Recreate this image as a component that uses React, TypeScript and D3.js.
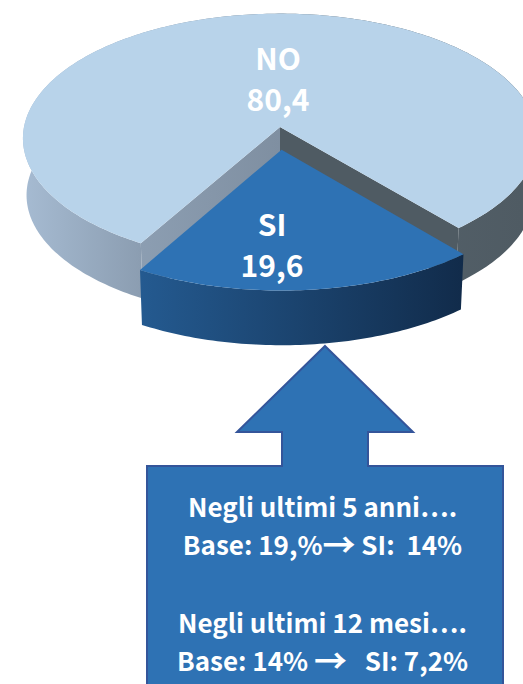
import React from "react";
import * as d3 from "d3";

const categories = ["SI", "NO"];
const values = [19.6, 80.4];
const valueLabels = ["19,6", "80,4"];
const calloutLines = [
  "Negli ultimi 5 anni….",
  "Base: 19,%→ SI:  14%",
  "Negli ultimi 12 mesi….",
  "Base: 14% →   SI: 7,2%",
];

const W = 523;
const H = 684;
const FONT = "'Noto Sans CJK SC', 'Noto Sans', sans-serif";

// pie lying in perspective: unit disc coords -> screen
const cx = 280;
const cy = 127;
const rx = 256;
const ry = 123.7;
const persp = 0.0909;
const depth = 57;
const bottomScale = 0.986;

const deg = Math.PI / 180;
const pie = d3
  .pie<number>()
  .sort(null)
  .startAngle(139.5 * deg)
  .endAngle((139.5 + 360) * deg);
const [siSlice, noSlice] = pie(values);

type Pt = [number, number];

// angle is d3's: clockwise from 12 o'clock
const project = (angle: number, r: number, ox: number, oy: number, low: boolean): Pt => {
  const u = r * Math.sin(angle) + ox;
  const v = -r * Math.cos(angle) + oy;
  const w = 1 - persp * v;
  const k = low ? bottomScale : 1;
  return [cx + (k * rx * u) / w, cy + (k * ry * v) / w + (low ? depth : 0)];
};

const arcPts = (a0: number, a1: number, ox: number, oy: number, low: boolean): Pt[] => {
  const n = Math.ceil(Math.abs(a1 - a0) / (1 * deg));
  return d3.range(n + 1).map((i) => project(a0 + ((a1 - a0) * i) / n, 1, ox, oy, low));
};

const line = d3.line<Pt>();
const closed = (pts: Pt[]) => line(pts) + "Z";

const SI_OX = 0.006;
const SI_OY = 0.18;

const noTop = closed([
  project(0, 0, 0, 0, false),
  ...arcPts(noSlice.startAngle, noSlice.endAngle, 0, 0, false),
]);
const noOuter = closed([
  ...arcPts(noSlice.startAngle, noSlice.endAngle, 0, 0, false),
  ...arcPts(noSlice.endAngle, noSlice.startAngle, 0, 0, true),
]);
const innerWall = (a: number) =>
  closed([
    project(0, 0, 0, 0, false),
    project(a, 1, 0, 0, false),
    project(a, 1, 0, 0, true),
    project(0, 0, 0, 0, true),
  ]);

const siTop = closed([
  project(0, 0, SI_OX, SI_OY, false),
  ...arcPts(siSlice.startAngle, siSlice.endAngle, SI_OX, SI_OY, false),
]);
const siOuter = closed([
  ...arcPts(siSlice.startAngle, siSlice.endAngle, SI_OX, SI_OY, false),
  ...arcPts(siSlice.endAngle, siSlice.startAngle, SI_OX, SI_OY, true),
]);

const callout = closed([
  [325, 346],
  [413, 432],
  [368, 432],
  [368, 466],
  [503, 466],
  [503, 690],
  [147, 690],
  [147, 466],
  [282, 466],
  [282, 432],
  [237, 432],
]);

// the arrow glyph sits larger than the text around it
const withArrow = (s: string) => {
  const parts = s.split("→");
  if (parts.length < 2) return s;
  return (
    <>
      {parts[0]}
      <tspan fontSize={33} dy={2}>→</tspan>
      <tspan dy={-2}>{parts[1]}</tspan>
    </>
  );
};

export default function App() {
  const labelStyle = {
    fontFamily: FONT,
    fontWeight: 700,
    fill: "#fff",
    textAnchor: "middle",
  } as React.CSSProperties;

  return (
    <svg
      width={W}
      height={H}
      viewBox={`0 0 ${W} ${H}`}
      style={{ position: "absolute", left: 0, top: 0, display: "block", background: "#fff" }}
    >
      <defs>
        <linearGradient id="noWall" gradientUnits="userSpaceOnUse" x1={23} x2={523} y1={0} y2={0}>
          <stop offset="0" stopColor="#a6bbd2" />
          <stop offset="0.23" stopColor="#8c9eb2" />
          <stop offset="0.6" stopColor="#56636d" />
          <stop offset="1" stopColor="#4f5b63" />
        </linearGradient>
        <linearGradient id="noInner" gradientUnits="userSpaceOnUse" x1={138} x2={280} y1={0} y2={0}>
          <stop offset="0" stopColor="#8c9eb2" />
          <stop offset="1" stopColor="#7f8fa1" />
        </linearGradient>
        <linearGradient id="siWall" gradientUnits="userSpaceOnUse" x1={140} x2={465} y1={0} y2={0}>
          <stop offset="0" stopColor="#245a90" />
          <stop offset="1" stopColor="#112b4a" />
        </linearGradient>
      </defs>

      <path d={noOuter} fill="url(#noWall)" />
      <path d={innerWall(noSlice.startAngle)} fill="url(#noInner)" />
      <path d={innerWall(noSlice.endAngle)} fill="#4f5b63" />
      <path d={noTop} fill="#b8d3ea" />

      <path d={siOuter} fill="url(#siWall)" />
      <path d={siTop} fill="#2e72b4" />

      <g style={labelStyle} fontSize={30}>
        <text x={278} y={70}>{categories[1]}</text>
        <text x={278} y={111}>{valueLabels[1]}</text>
        <text x={272} y={236}>{categories[0]}</text>
        <text x={272} y={277}>{valueLabels[0]}</text>
      </g>

      <path d={callout} fill="#2e72b4" stroke="#34559a" strokeWidth={2} />

      <g style={labelStyle} fontSize={26}>
        {calloutLines.map((s, i) => (
          <text key={i} x={322.5} y={[517, 555, 633, 671][i]} xmlSpace="preserve">
            {withArrow(s)}
          </text>
        ))}
      </g>
    </svg>
  );
}
